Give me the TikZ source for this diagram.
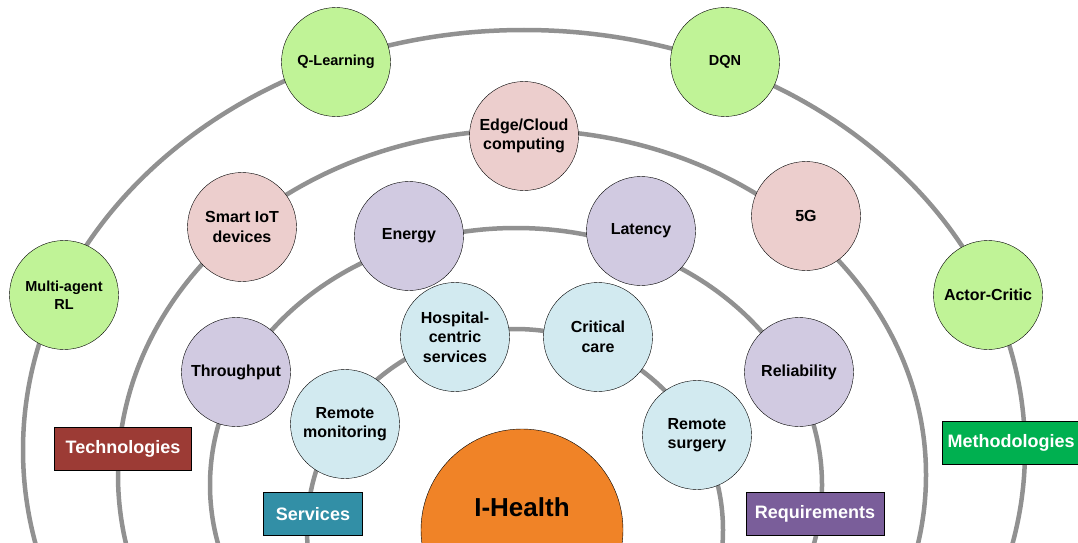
\documentclass[tikz,border=0pt]{standalone}
\usepackage{fontspec}
\setmainfont{Liberation Sans}
\usetikzlibrary{positioning}
\pgfdeclarelayer{bg}
\pgfsetlayers{bg,main}
\definecolor{ringgray}{RGB}{145,145,145}
\definecolor{methfill}{RGB}{192,243,151}
\definecolor{techfill}{RGB}{236,206,205}
\definecolor{reqfill}{RGB}{209,202,225}
\definecolor{servfill}{RGB}{210,234,240}
\definecolor{healthfill}{RGB}{240,131,39}
\definecolor{methbox}{RGB}{0,176,80}
\definecolor{techbox}{RGB}{156,59,53}
\definecolor{reqbox}{RGB}{122,94,154}
\definecolor{servbox}{RGB}{50,143,166}

\begin{document}
\begin{tikzpicture}[
x = 1pt, y = -1pt,
every node/.style = {
	font = \bfseries\fontsize{16}{19.5}\selectfont,
	align = center
},
bubble/.style = {
	circle,
	draw,
	thin,
	minimum size = 109pt,
	inner sep = 0pt
},
small/.style = {
	font = \bfseries\fontsize{14.5}{18}\selectfont
},
areabox/.style = {
	draw,
	thin,
	text = white,
	minimum height = 43pt,
	inner sep = 0pt,
	font = \bfseries\fontsize{18}{22}\selectfont
},
ringline/.style = {
	draw = ringgray,
	line width = 4.5pt
}
]
\useasboundingbox (0,0) rectangle (1078,543);

% centre
\node[bubble, fill=healthfill, minimum size=202pt] (health) at (522,530) {};
\node[font=\bfseries\fontsize{26}{30}\selectfont] (healthtext) at ([yshift=23pt]health.center) {I-Health};

% methodologies
\node[bubble, fill=methfill, small]	(qlearn)	at (336,62)		{Q-Learning};
\node[bubble, fill=methfill, small]	(dqn)		at (725,62)		{DQN};
\node[bubble, fill=methfill, small]	(marl)		at (64,295)		{Multi-agent\\RL};
\node[bubble, fill=methfill]		(actor)		at (988,295)	{Actor-Critic};

% technologies
\node[bubble, fill=techfill]	(edge)	at (524,136)	{Edge/Cloud\\computing};
\node[bubble, fill=techfill]	(iot)	at (242,227)	{Smart IoT\\devices};
\node[bubble, fill=techfill]	(fiveg)	at (806,216)	{5G};

% requirements
\node[bubble, fill=reqfill]	(energy)	at (409,236)	{Energy};
\node[bubble, fill=reqfill]	(latency)	at (641,231)	{Latency};
\node[bubble, fill=reqfill]	(thru)		at (236,372)	{Throughput};
\node[bubble, fill=reqfill]	(reliab)	at (799,372)	{Reliability};

% services
\node[bubble, fill=servfill]	(hospital)	at (455,337)	{Hospital-\\centric\\services};
\node[bubble, fill=servfill]	(critical)	at (598,337)	{Critical\\care};
\node[bubble, fill=servfill]	(remmon)	at (345,424)	{Remote\\monitoring};
\node[bubble, fill=servfill]	(remsurg)	at (697,435)	{Remote\\surgery};

% ring names
\node[areabox, fill=techbox, minimum width=137pt]	(tech)	at (123,449)	{Technologies};
\node[areabox, fill=servbox, minimum width=99pt]	(serv)	at (313,514)	{Services};
\node[areabox, fill=reqbox, minimum width=138pt]	(req)	at (815,514)	{Requirements};
\node[areabox, fill=methbox, minimum width=137pt]	(meth)	at (1011,443)	{Methodologies};

\begin{pgfonlayer}{bg}
\clip (0,0) rectangle (1078,543);
\draw[ringline] (524,450) ellipse [x radius=501pt, y radius=420pt];
\draw[ringline] (522,475) ellipse [x radius=404pt, y radius=345pt];
\draw[ringline] (516,485) ellipse [x radius=306pt, y radius=257pt];
\draw[ringline] (515,530) ellipse [x radius=208pt, y radius=201pt];
\end{pgfonlayer}
\end{tikzpicture}
\end{document}
